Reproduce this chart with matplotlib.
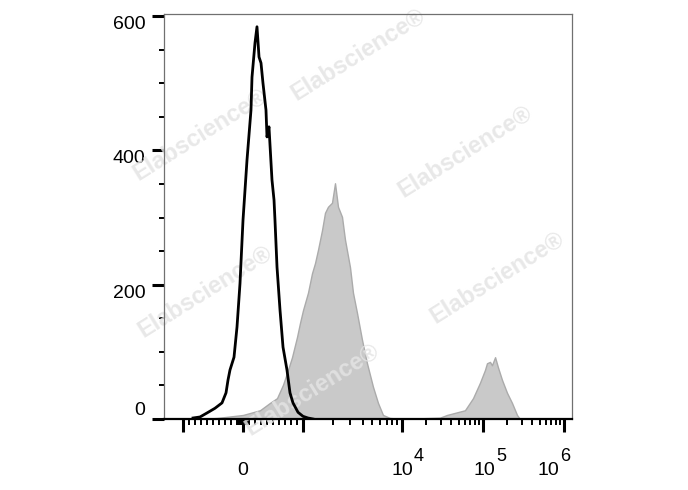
import numpy as np
import matplotlib
matplotlib.use("Agg")
import matplotlib.pyplot as plt

plt.rcParams['font.family'] = ['Liberation Sans', 'DejaVu Sans']

# isotype control (black line)
ctrl_x = [-833, -717, -600, -467, -350, -283, -250, -217, -150, -100, -50, 0, 67, 133, 150,
          200, 233, 267, 300, 333, 383, 400, 433, 483, 517, 533, 567, 617, 667, 733, 783,
          833, 917, 1000, 1123, 1262]
ctrl_y = [1.5, 3, 9, 16, 24, 39, 58, 73, 92, 137, 202, 296, 386, 460, 509,
          560, 584, 539, 530, 500, 460, 420, 435, 356, 326, 296, 226, 162, 107, 73, 39,
          24, 10, 4, 1.5, 0]

# stained sample (grey filled)
stain_x = [-700, -433, 0, 283, 450, 567, 667, 750, 817, 900, 950, 1000, 1123, 1233, 1322,
           1418, 1556, 1668, 1788, 1963, 2105, 2257, 2477, 2656, 2984, 3199, 3511, 3944,
           4430, 5092, 5720, 6425, 7558, 9556, 16700, 29400, 35900, 59900, 75300, 91800,
           105800, 112000, 122000, 129000, 141000, 153000, 172000, 198000, 228000, 263000,
           286000]
stain_y = [0, 1.5, 6, 13, 24, 31, 51, 73, 92, 122, 143, 162, 188, 217, 232,
           252, 281, 307, 316, 322, 351, 316, 301, 267, 226, 188, 158, 118,
           83, 48, 24, 6, 1.5, 0.5, 1, 2, 6, 13, 31, 54,
           73, 83, 85, 80, 92, 77, 58, 39, 24, 6,
           0]

x_major = [-1e3, 0, 1e3, 1e4, 1e5, 1e6]
y_major = [0, 200, 400, 600]


# biexponential-like axis: linear around 0, log above 10^3
def fwd(x):
    x = np.asarray(x, dtype=float)
    a = np.abs(x)
    lin = a * 0.06
    mid = 60 + 99 * np.log10(np.clip(a, 1e3, 1e4) / 1e3)
    hi = 159 + 81 * np.log10(np.clip(a, 1e4, 1e12) / 1e4)
    u = np.where(a <= 1e3, lin, np.where(a <= 1e4, mid, hi))
    return np.sign(x) * u


def inv(u):
    u = np.asarray(u, dtype=float)
    b = np.abs(u)
    lin = b / 0.06
    mid = 1e3 * 10 ** ((np.clip(b, 60, 159) - 60) / 99)
    hi = 1e4 * 10 ** ((np.clip(b, 159, 1000) - 159) / 81)
    v = np.where(b <= 60, lin, np.where(b <= 159, mid, hi))
    return np.sign(u) * v


fig = plt.figure(figsize=(6.88, 4.9), dpi=100)
ax = fig.add_axes([164/688, 1-419/490, 408/688, 405/490])
ax.set_xscale('function', functions=(fwd, inv))

ax.fill_between(stain_x, stain_y, 0, facecolor='#c9c9c9', edgecolor='#ababab', lw=1.0, zorder=1)
ax.plot(ctrl_x, ctrl_y, color='black', lw=2.0, zorder=3)

ax.set_xlim(-1556, 1.256e6)
ax.set_ylim(0, 603)

# ticks
minor = []
for d in [10, 100]:
    for k in range(1, 10):
        minor += [k*d, -k*d]
for d in [1e3, 1e4, 1e5]:
    for k in range(2, 10):
        minor.append(k*d)
ax.set_xticks(x_major)
ax.set_xticks(minor, minor=True)
ax.set_xticklabels([])
ax.set_yticks(y_major)
ax.set_yticks([50, 100, 150, 250, 300, 350, 450, 500, 550], minor=True)
ax.set_yticklabels([str(v) for v in y_major])
ax.tick_params(axis='x', which='major', direction='out', length=9.5, width=2.2, color='black')
ax.tick_params(axis='x', which='minor', direction='out', length=4.5, width=1.4, color='black')
ax.tick_params(axis='y', which='major', direction='out', length=8.5, width=2.2, color='black',
               labelsize=14, pad=5)
ax.tick_params(axis='y', which='minor', direction='out', length=3.6, width=1.4, color='black')
for lab in ax.get_yticklabels():
    lab.set_va('bottom' if lab.get_text() == '0' else 'top')

for s in ['top', 'right', 'left']:
    ax.spines[s].set_color('#707070')
    ax.spines[s].set_linewidth(0.9)
ax.spines['bottom'].set_color('black')
ax.spines['bottom'].set_linewidth(1.6)

# x labels: 0, 10^4, 10^5, 10^6
px = 0.72
ax.annotate('0', xy=(0, 0), xycoords=('data', 'axes fraction'), xytext=(0, -56*px),
            textcoords='offset points', ha='center', va='baseline', fontsize=14)
for v, e, dx in [(1e4, '4', 0), (1e5, '5', 1), (1e6, '6', -16)]:
    ax.annotate('10', xy=(v, 0), xycoords=('data', 'axes fraction'), xytext=(dx*px, -56*px),
                textcoords='offset points', ha='center', va='baseline', fontsize=14)
    ax.annotate(e, xy=(v, 0), xycoords=('data', 'axes fraction'), xytext=((dx+12)*px, -42*px),
                textcoords='offset points', ha='left', va='baseline', fontsize=13)

# watermark
for cx, cy in [(200, 135), (358, 55), (465, 152), (205, 292), (497, 278), (312, 390)]:
    ax.text(cx/688, 1-cy/490, 'Elabscience®', transform=fig.transFigure, rotation=32,
            ha='center', va='center', fontsize=17, fontweight='bold', color='#e4e4e4',
            alpha=0.85, zorder=2, clip_on=False)

fig.savefig('out.png', dpi=100)
